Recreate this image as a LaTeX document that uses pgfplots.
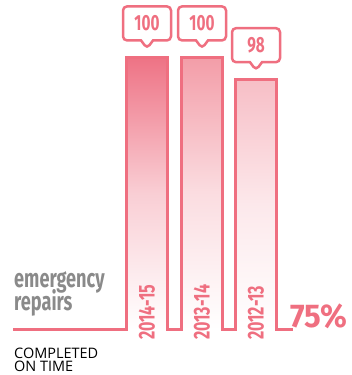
\documentclass[border=0pt]{standalone}
\usepackage{pgfplots}
\pgfplotsset{compat=1.18}
\usetikzlibrary{shapes.callouts}
\usepackage{fontspec}
\setmainfont{Open Sans}
\newfontfamily\cond[FakeStretch=0.70]{Fira Sans}
\newfontfamily\condw[FakeStretch=0.95]{Fira Sans}
\definecolor{pk}{HTML}{EF6F80}
\definecolor{pkA}{HTML}{EE7385}
\definecolor{pkB}{HTML}{F39DA8}
\definecolor{pkC}{HTML}{F7BEC6}
\definecolor{gr}{HTML}{8A8A8A}
\begin{document}
\begin{tikzpicture}
\begin{axis}[
  scale only axis, width=352bp, height=375bp,
  xmin=0, xmax=352, ymin=70.818, ymax=105.285,
  hide axis, clip=false,
  /pgf/number format/assume math mode=true,
]
% gradient fills
\addplot[draw=none, top color=pkA, bottom color=white, middle color=pkA!35!white] coordinates {(126.5,75)(126.5,100)(167.5,100)(167.5,75)} -- cycle;
\addplot[draw=none, top color=pkB, bottom color=white, middle color=pkB!35!white] coordinates {(181.5,75)(181.5,100)(222.5,100)(222.5,75)} -- cycle;
\addplot[draw=none, top color=pkC, bottom color=white, middle color=pkC!35!white] coordinates {(235.5,75)(235.5,98)(276.5,98)(276.5,75)} -- cycle;
% outline
\addplot[draw=pk, line width=3bp, line join=miter, mark=none] coordinates {
 (13,75)(126.5,75)(126.5,100)(167.5,100)(167.5,75)
 (181.5,75)(181.5,100)(222.5,100)(222.5,75)
 (235.5,75)(235.5,98)(276.5,98)(276.5,75)(293,75)};
% callouts
\addplot[draw=none, mark=none,
  nodes near coords={\pgfmathprintnumber[assume math mode=true]{\pgfplotspointmeta}},
  every node near coord/.style={rectangle callout, draw=pk, line width=2.5bp,
    rounded corners=4bp, fill=white, minimum width=48bp, minimum height=34bp,
    inner sep=0pt, callout relative pointer={(270:8bp)}, callout pointer width=12bp,
    anchor=pointer, yshift=7bp, text=pk,
    font=\cond\bfseries\fontsize{22}{22}\selectfont}]
 coordinates {(147,100)(202,100)(256,98)};
% year labels
\node[rotate=90, anchor=west, inner sep=0pt, text=pk, font=\cond\bfseries\fontsize{23}{23}\selectfont] at (axis cs:147,74.035) {2014-15};
\node[rotate=90, anchor=west, inner sep=0pt, text=pk, font=\cond\bfseries\fontsize{23}{23}\selectfont] at (axis cs:202,74.035) {2013-14};
\node[rotate=90, anchor=west, inner sep=0pt, text=pk, font=\cond\bfseries\fontsize{23}{23}\selectfont] at (axis cs:256,74.035) {2012-13};
% texts
\node[anchor=base west, inner sep=0pt, text=gr, font=\cond\bfseries\fontsize{26}{26}\selectfont] at (axis cs:14,78.906) {emergency};
\node[anchor=base west, inner sep=0pt, text=gr, font=\cond\bfseries\fontsize{26}{26}\selectfont] at (axis cs:14,76.792) {repairs};
\node[anchor=base west, inner sep=0pt, text=black, font=\fontsize{14.5}{14.5}\selectfont] at (axis cs:14,72.289) {COMPLETED};
\node[anchor=base west, inner sep=0pt, text=black, font=\fontsize{14.5}{14.5}\selectfont] at (axis cs:14,71.094) {ON TIME};
\node[anchor=base west, inner sep=0pt, text=pk, font=\condw\bfseries\fontsize{33}{33}\selectfont] at (axis cs:290,75.138) {75\%};
\end{axis}
\pgfresetboundingbox
\useasboundingbox (current axis.south west) rectangle (current axis.north east);
\end{tikzpicture}
\end{document}
